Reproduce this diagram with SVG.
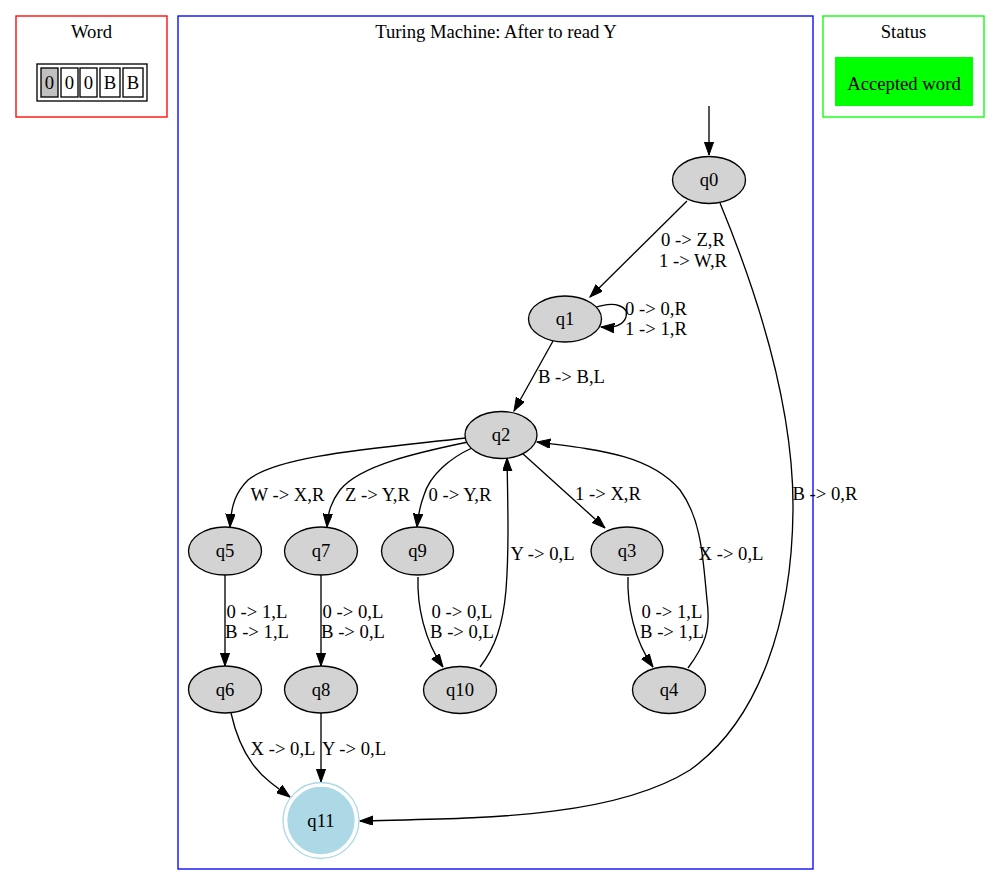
<svg xmlns="http://www.w3.org/2000/svg" width="1000" height="886" viewBox="0 0 1000 886">
<defs>
<marker id="arr" markerUnits="userSpaceOnUse" markerWidth="14" markerHeight="10" refX="13.3" refY="4.7" orient="auto">
<path d="M0,0 L13.3,4.7 L0,9.4 z" fill="#000" stroke="#000" stroke-width="1"/>
</marker>
<style>
text{font-family:"Liberation Serif","Times New Roman",serif;font-size:18.67px;fill:#000;text-anchor:middle}
.st{fill:#d3d3d3;stroke:#000;stroke-width:1.33}
.e{fill:none;stroke:#000;stroke-width:1.33;marker-end:url(#arr)}
.cell{fill:#fff;stroke:#000;stroke-width:1.33}
</style>
</defs>
<rect width="1000" height="886" fill="#fff"/>

<g id="word">
<rect x="16" y="16" width="151" height="101" fill="none" stroke="#ff0000" stroke-width="1.33"/>
<text x="91.5" y="38">Word</text>
<rect x="37" y="64" width="110" height="37" fill="none" stroke="#000" stroke-width="1.33"/>
<rect class="cell" x="41" y="68" width="17" height="29" style="fill:#c0c0c0"/>
<text x="49.5" y="89">0</text>
<rect class="cell" x="61" y="68" width="17" height="29"/>
<text x="69.5" y="89">0</text>
<rect class="cell" x="80" y="68" width="17" height="29"/>
<text x="88.5" y="89">0</text>
<rect class="cell" x="100" y="68" width="20" height="29"/>
<text x="110" y="89">B</text>
<rect class="cell" x="123" y="68" width="20" height="29"/>
<text x="133" y="89">B</text>
</g>

<g id="status">
<rect x="823" y="16" width="161" height="101" fill="none" stroke="#00ff00" stroke-width="1.33"/>
<text x="903.5" y="38">Status</text>
<rect x="835" y="57" width="138" height="49" fill="#00ff00"/>
<text x="904" y="90">Accepted word</text>
</g>

<g id="tm">
<rect x="178" y="16" width="635" height="853" fill="none" stroke="#0000ff" stroke-width="1.33"/>
<text x="496" y="38">Turing Machine: After to read Y</text>
</g>

<g id="connectors">
<path class="e" d="M709,106 L709,155"/>
<path class="e" d="M687,201 L590,297"/>
<path class="e" d="M594,308 C616,300 629,307 626,317 C623,326 613,328 601,327"/>
<path class="e" d="M553,341 L514,411"/>
<path class="e" d="M720,203 C760,300 794,410 793,510 C792,620 760,720 690,770 C610,820 470,818 360,821"/>
<path class="e" d="M466,438 C380,448 278,455 248,480 C236,492 231,505 230,527"/>
<path class="e" d="M468,442 C420,452 360,465 340,490 C331,502 328,512 327,527"/>
<path class="e" d="M472,448 C450,458 430,475 424,495 C420,506 418,515 417,527"/>
<path class="e" d="M522,453 L605,528"/>
<path class="e" d="M628,577 C627,605 634,640 653,667"/>
<path class="e" d="M688,668 C705,645 711,630 707,600 C703,560 702,520 680,490 C650,455 600,450 537,442"/>
<path class="e" d="M418,577 C417,605 424,640 443,667"/>
<path class="e" d="M480,667 C495,648 503,625 506,590 C509,550 508,510 507,458"/>
<path class="e" d="M225,575 L225,666"/>
<path class="e" d="M321,575 L321,666"/>
<path class="e" d="M231,713 C237,740 248,765 270,782 C276,787 282,791 290,797"/>
<path class="e" d="M321,713 L321,782"/>
<text x="693" y="246">0 -&gt; Z,R</text>
<text x="693" y="267">1 -&gt; W,R</text>
<text x="656" y="315">0 -&gt; 0,R</text>
<text x="656" y="335">1 -&gt; 1,R</text>
<text x="571.5" y="383">B -&gt; B,L</text>
<text x="825" y="500">B -&gt; 0,R</text>
<text x="287.5" y="501">W -&gt; X,R</text>
<text x="377.5" y="501">Z -&gt; Y,R</text>
<text x="460" y="501">0 -&gt; Y,R</text>
<text x="608" y="500">1 -&gt; X,R</text>
<text x="542.5" y="560">Y -&gt; 0,L</text>
<text x="731" y="560">X -&gt; 0,L</text>
<text x="257" y="618">0 -&gt; 1,L</text>
<text x="257" y="638">B -&gt; 1,L</text>
<text x="353" y="618">0 -&gt; 0,L</text>
<text x="353" y="638">B -&gt; 0,L</text>
<text x="462" y="618">0 -&gt; 0,L</text>
<text x="462" y="638">B -&gt; 0,L</text>
<text x="672" y="618">0 -&gt; 1,L</text>
<text x="672" y="638">B -&gt; 1,L</text>
<text x="283" y="755">X -&gt; 0,L</text>
<text x="354" y="755">Y -&gt; 0,L</text>
</g>

<g id="q0"><ellipse class="st" cx="709" cy="180" rx="36.5" ry="23.5"/><text x="709" y="186">q0</text></g>
<g id="q1"><ellipse class="st" cx="565" cy="319" rx="36.5" ry="23"/><text x="565" y="325">q1</text></g>
<g id="q2"><ellipse class="st" cx="501" cy="435" rx="36" ry="23.5"/><text x="501" y="441">q2</text></g>
<g id="q5"><ellipse class="st" cx="225" cy="551" rx="36.5" ry="24"/><text x="225" y="557">q5</text></g>
<g id="q7"><ellipse class="st" cx="321" cy="551" rx="36.5" ry="24"/><text x="321" y="557">q7</text></g>
<g id="q9"><ellipse class="st" cx="417.5" cy="551" rx="36" ry="24"/><text x="417.5" y="557">q9</text></g>
<g id="q3"><ellipse class="st" cx="627" cy="551" rx="36" ry="24"/><text x="627" y="557">q3</text></g>
<g id="q6"><ellipse class="st" cx="225" cy="689.5" rx="36.5" ry="23.5"/><text x="225" y="696">q6</text></g>
<g id="q8"><ellipse class="st" cx="321" cy="689.5" rx="36.5" ry="23.5"/><text x="321" y="696">q8</text></g>
<g id="q10"><ellipse class="st" cx="460" cy="690" rx="36.5" ry="23.5"/><text x="460" y="696">q10</text></g>
<g id="q4"><ellipse class="st" cx="669" cy="690" rx="36.5" ry="23.5"/><text x="669" y="696">q4</text></g>
<g id="q11">
<circle cx="321" cy="820.5" r="38" fill="none" stroke="#add8e6" stroke-width="1.33"/>
<circle cx="321" cy="820.5" r="33" fill="#add8e6" stroke="#add8e6" stroke-width="1.33"/>
<text x="321" y="827">q11</text>
</g>
</svg>
